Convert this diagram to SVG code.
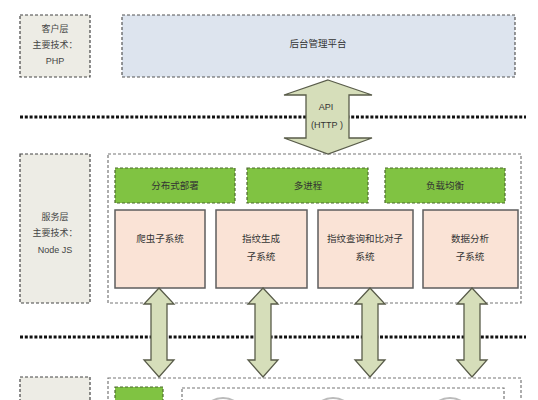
<svg xmlns="http://www.w3.org/2000/svg" width="538" height="400" viewBox="0 0 538 400">
<style>
text{font-family:"Liberation Sans","Noto Sans CJK SC",sans-serif;font-size:9.5px;fill:#333;text-anchor:middle}
.lbl{font-size:9px;fill:#444}
.side{fill:#edece5;stroke:#444;stroke-width:1.2;stroke-dasharray:3 2}
.outer{fill:none;stroke:#777;stroke-width:1.2;stroke-dasharray:3 2}
.green{fill:#80c342;stroke:#4d6b2e;stroke-width:1.2;stroke-dasharray:3 2}
.pink{fill:#fae3d6;stroke:#5e5e5e;stroke-width:1.5}
.dots{stroke:#111;stroke-width:3;stroke-dasharray:3 1.8}
.arrow{fill:#d6deba;stroke:#595c4a;stroke-width:1.3;stroke-linejoin:miter}
</style>
<rect width="538" height="400" fill="#fff"/>
<g id="separators">
<line class="dots" x1="20" y1="117" x2="526" y2="117"/>
<line class="dots" x1="20" y1="337" x2="526" y2="337"/>
</g>
<g id="client-layer">
<rect class="side" x="20" y="15" width="70" height="62"/>
<text class="lbl" x="55" y="32">客户层</text>
<text class="lbl" x="55" y="48">主要技术：</text>
<text class="lbl" x="55" y="64">PHP</text>
</g>
<g id="admin-platform">
<rect x="122" y="15" width="393" height="62" fill="#dde4ee" stroke="#555" stroke-width="1.2" stroke-dasharray="3 2"/>
<text x="318" y="47">后台管理平台</text>
</g>
<g id="service-layer">
<rect class="side" x="20" y="154" width="70" height="149"/>
<text class="lbl" x="55" y="220">服务层</text>
<text class="lbl" x="55" y="236">主要技术：</text>
<text class="lbl" x="55" y="253">Node JS</text>
</g>
<g id="service-box">
<rect class="outer" x="108" y="154" width="413" height="149"/>
</g>
<g id="distributed">
<rect class="green" x="115" y="168" width="120" height="35"/>
<text x="175" y="189">分布式部署</text>
</g>
<g id="multiprocess">
<rect class="green" x="247" y="168" width="121" height="35"/>
<text x="308" y="189">多进程</text>
</g>
<g id="loadbalance">
<rect class="green" x="385" y="168" width="120" height="35"/>
<text x="445" y="189">负载均衡</text>
</g>
<g id="crawler">
<rect class="pink" x="115" y="210" width="90" height="78"/>
<text x="160" y="242">爬虫子系统</text>
</g>
<g id="fingerprint-gen">
<rect class="pink" x="216" y="210" width="91" height="78"/>
<text x="261" y="242">指纹生成</text>
<text x="261" y="260">子系统</text>
</g>
<g id="fingerprint-query">
<rect class="pink" x="318" y="210" width="95" height="78"/>
<text x="365" y="242">指纹查询和比对子</text>
<text x="365" y="260">系统</text>
</g>
<g id="data-analysis">
<rect class="pink" x="423" y="210" width="95" height="78"/>
<text x="470" y="242">数据分析</text>
<text x="470" y="260">子系统</text>
</g>
<g id="bottom-layer">
<rect class="side" x="20" y="377" width="70" height="40"/>
<rect class="outer" x="108" y="378" width="413" height="40"/>
<rect class="green" x="115" y="387" width="48" height="30"/>
<rect class="outer" x="182" y="388" width="322" height="30"/>
<circle cx="223" cy="420" r="22" fill="none" stroke="#bbb" stroke-width="2"/>
<circle cx="333" cy="420" r="22" fill="none" stroke="#bbb" stroke-width="2"/>
<circle cx="450" cy="420" r="22" fill="none" stroke="#bbb" stroke-width="2"/>
</g>
<g id="connectors">
<path class="arrow" d="M328,80 L372,95 L349,95 L349,138 L372,138 L328,154 L284,138 L306,138 L306,95 L284,95 Z"/>
<text x="326" y="110" style="font-size:9px">API</text>
<text x="327" y="128" style="font-size:9px">(HTTP )</text>
<path class="arrow" d="M159,288 L174,304 L167,304 L167,360 L174,360 L159,377 L144,360 L151,360 L151,304 L144,304 Z"/>
<path class="arrow" d="M263,288 L278,304 L271,304 L271,360 L278,360 L263,377 L248,360 L255,360 L255,304 L248,304 Z"/>
<path class="arrow" d="M370,288 L385,304 L378,304 L378,360 L385,360 L370,377 L355,360 L362,360 L362,304 L355,304 Z"/>
<path class="arrow" d="M472,288 L487,304 L480,304 L480,360 L487,360 L472,377 L457,360 L464,360 L464,304 L457,304 Z"/>
</g>
</svg>
